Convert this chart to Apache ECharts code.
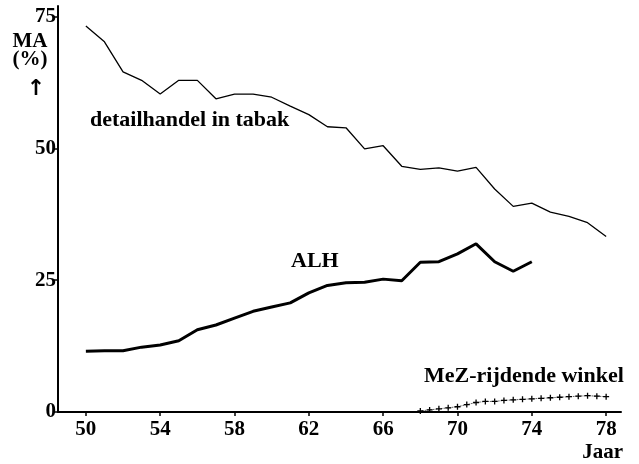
<!DOCTYPE html>
<html>
<head>
<meta charset="utf-8">
<script src="https://cdn.jsdelivr.net/npm/echarts@6/dist/echarts.min.js"></script>
<style>
  html, body { margin: 0; padding: 0; background: #fff; }
  #chart { width: 639px; height: 464px; }
</style>
</head>
<body>
<div id="chart"></div>
<script>
  // jaren en waarden
  var years = [50, 51, 52, 53, 54, 55, 56, 57, 58, 59, 60, 61, 62, 63, 64,
    65, 66, 67, 68, 69, 70, 71, 72, 73, 74, 75, 76, 77, 78]
  var tabak = [73.2, 70.2, 64.5, 62.9, 60.3, 62.9, 62.9, 59.4, 60.3, 60.3, 59.7, 58.0, 56.4, 54.1, 53.9,
    49.9, 50.5, 46.6, 46.0, 46.3, 45.7, 46.4, 42.3, 39.0, 39.6, 37.9, 37.1, 35.9, 33.3]
  var alhYears = [50, 51, 52, 53, 54, 55, 56, 57, 58, 59, 60, 61, 62, 63, 64,
    65, 66, 67, 68, 69, 70, 71, 72, 73, 74]
  var alh = [11.5, 11.6, 11.6, 12.3, 12.7, 13.5, 15.6, 16.5, 17.8, 19.1, 19.9, 20.7, 22.6, 24.0, 24.5,
    24.6, 25.2, 24.9, 28.4, 28.5, 30.0, 31.9, 28.5, 26.7, 28.5]
  var mezYears = [68, 68.5, 69, 69.5, 70, 70.5, 71, 71.5, 72, 72.5, 73, 73.5, 74, 74.5,
    75, 75.5, 76, 76.5, 77, 77.5, 78]
  var mez = [0.2, 0.4, 0.6, 0.8, 1.0, 1.4, 1.8, 2.0, 2.0, 2.2, 2.3, 2.4, 2.5, 2.6,
    2.7, 2.8, 2.9, 3.0, 3.1, 3.0, 2.9]
  var xTicks = [50, 54, 58, 62, 66, 70, 74, 78]
  var yTicks = [0, 25, 50, 75]

  function pairs(xs, ys) {
    return xs.map(function (x, i) { return [x, ys[i]] })
  }

  var font = 'Liberation Serif'
  var cross = 'path://M0,5L10,5M5,0L5,10'

  function label(x, y, text, size, align) {
    return {
      type: 'text',
      x: x,
      y: y,
      style: {
        text: text,
        font: 'bold ' + size + 'px "Liberation Serif"',
        fill: '#000',
        align: align || 'left',
        verticalAlign: 'top'
      }
    }
  }

  var chart = echarts.init(document.getElementById('chart'))
  chart.setOption({
    animation: false,
    backgroundColor: '#fff',
    grid: {
      left: 58,
      right: 18,
      top: 6,
      bottom: 52
    },
    xAxis: {
      type: 'value',
      min: 48.5,
      max: 78.8,
      axisLine: { lineStyle: { color: '#000', width: 2 } },
      axisTick: { customValues: xTicks, length: 4, lineStyle: { color: '#000', width: 1.5 } },
      axisLabel: {
        customValues: xTicks,
        color: '#000',
        fontFamily: font,
        fontWeight: 'bold',
        fontSize: 21,
        margin: 7
      },
      splitLine: { show: false }
    },
    yAxis: {
      type: 'value',
      min: 0,
      max: 77,
      axisLine: { show: true, lineStyle: { color: '#000', width: 2 } },
      axisTick: { show: true, customValues: yTicks, length: 4, lineStyle: { color: '#000', width: 1.5 } },
      axisLabel: {
        customValues: yTicks,
        color: '#000',
        fontFamily: font,
        fontWeight: 'bold',
        fontSize: 21,
        margin: 2,
        padding: [4, 0, 0, 0]
      },
      splitLine: { show: false }
    },
    series: [
      {
        name: 'detailhandel in tabak',
        type: 'line',
        symbol: 'none',
        lineStyle: { color: '#000', width: 1.3 },
        data: pairs(years, tabak)
      },
      {
        name: 'ALH',
        type: 'line',
        symbol: 'none',
        lineStyle: { color: '#000', width: 3 },
        data: pairs(alhYears, alh)
      },
      {
        name: 'MeZ-rijdende winkel',
        type: 'line',
        symbol: cross,
        symbolSize: 6,
        showAllSymbol: true,
        itemStyle: { color: 'none', borderColor: '#000', borderWidth: 1.3 },
        lineStyle: { color: '#000', width: 0.8, type: 'dotted' },
        data: pairs(mezYears, mez)
      }
    ],
    graphic: [
      label(30, 31, 'MA', 21, 'center'),
      label(30, 49, '(%)', 21, 'center'),
      {
        type: 'text',
        x: 36,
        y: 78,
        style: { text: '↑', font: 'bold 22px "DejaVu Sans"', fill: '#000', align: 'center', verticalAlign: 'top' }
      },
      label(90, 109, 'detailhandel in tabak', 22),
      label(291, 250, 'ALH', 22),
      label(424, 365, 'MeZ-rijdende winkel', 22),
      label(623, 442, 'Jaar', 21, 'right')
    ]
  })
</script>
</body>
</html>
